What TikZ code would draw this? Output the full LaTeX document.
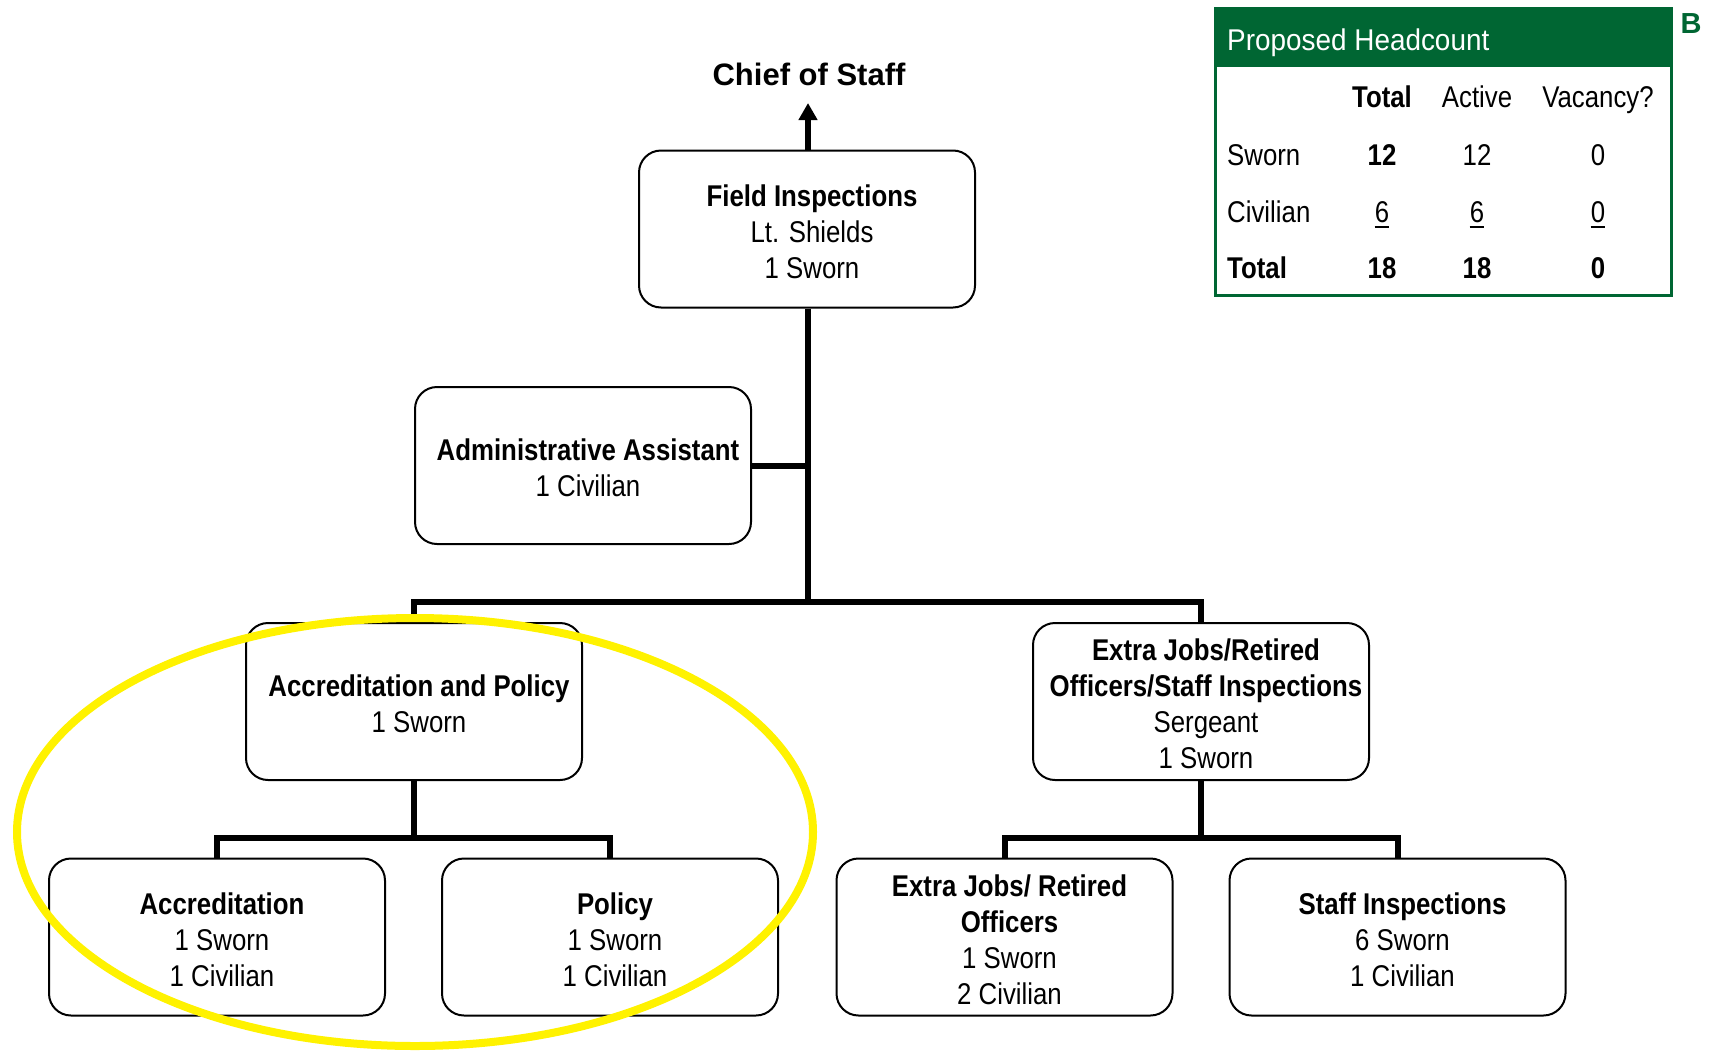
\documentclass[tikz,border=0pt]{standalone}
\usepackage{fontspec}
\setmainfont{Liberation Sans}
\newfontfamily\narrowfont{Liberation Sans}[FakeStretch=0.86]
\newfontfamily\headfont{Liberation Sans}[FakeStretch=0.93]
\usetikzlibrary{arrows.meta}
\definecolor{hcgreen}{RGB}{0,102,51}
% centred lines of a unit box, set a little right of and below the box centre
\newcommand\unitlines[1]{\hspace*{10pt}\raisebox{-6pt}[\height][\depth]{\begin{tabular}{@{}c@{}}#1\end{tabular}}}
\begin{document}
\begin{tikzpicture}[x=1pt,y=-1pt,
  unitbox/.style={draw, line width=2, rounded corners=22, minimum width=336,
    minimum height=157, inner sep=0,
    font=\narrowfont\fontsize{30}{36}\selectfont},
  link/.style={line width=6, line join=miter},
  cell/.style={inner sep=0, anchor=base, font=\narrowfont\fontsize{30}{36}\selectfont},
  boldcell/.style={cell, font=\narrowfont\bfseries\fontsize{30}{36}\selectfont},
  rowhead/.style={cell, anchor=base west},
  uline/.style={line width=2.5}]
\useasboundingbox (0,0) rectangle (1712,1052);

% organisation units
\node[unitbox] (field)  at (807,229)    {\unitlines{\bfseries Field Inspections\\Lt. Shields\\1 Sworn}};
\node[unitbox] (admin)  at (583,465.5)  {\unitlines{\bfseries Administrative Assistant\\1 Civilian}};
\node[unitbox] (accpol) at (414,701.5)  {\unitlines{\bfseries Accreditation and Policy\\1 Sworn}};
\node[unitbox] (extra)  at (1201,701.5) {\unitlines{\bfseries Extra Jobs/Retired\\\bfseries Officers/Staff Inspections\\Sergeant\\1 Sworn}};
\node[unitbox] (acc)    at (217,937)    {\unitlines{\bfseries Accreditation\\1 Sworn\\1 Civilian}};
\node[unitbox] (pol)    at (610,937)    {\unitlines{\bfseries Policy\\1 Sworn\\1 Civilian}};
\node[unitbox] (ejro)   at (1004.5,937) {\unitlines{\bfseries Extra Jobs/ Retired\\\bfseries Officers\\1 Sworn\\2 Civilian}};
\node[unitbox] (staff)  at (1397.5,937) {\unitlines{\bfseries Staff Inspections\\6 Sworn\\1 Civilian}};

% reporting line upwards
\node[anchor=base, inner sep=0, font=\bfseries\fontsize{31}{36}\selectfont] (chief) at (809,85) {Chief of Staff};
\coordinate (uptip) at (808,103);
\draw[link, -{Triangle[width=18pt,length=17pt]}] (field.north -| uptip) -- (uptip);

% bus lines
\coordinate (bus1) at (808,602);
\coordinate (bus2) at (414,838);
\coordinate (bus3) at (1201,838);
\draw[link] (field.south -| bus1) -- (bus1);
\draw[link] (admin.east) -- (admin.east -| bus1);
\draw[link] (accpol.north) -- (accpol.north |- bus1) -- (extra.north |- bus1) -- (extra.north);
\draw[link] (accpol.south) -- (bus2);
\draw[link] (acc.north) -- (acc.north |- bus2) -- (pol.north |- bus2) -- (pol.north);
\draw[link] (extra.south) -- (bus3);
\draw[link] (ejro.north) -- (ejro.north |- bus3) -- (staff.north |- bus3) -- (staff.north);

% headcount table
\fill[hcgreen] (1215,8) rectangle (1671,67);
\draw[hcgreen, line width=3] (1215,8) rectangle (1671,295);
\node[anchor=base west, inner sep=0, text=white, font=\headfont\fontsize{30}{36}\selectfont] (thead) at (1227,50) {Proposed Headcount};
\node[boldcell] (ctot) at (1382,107) {Total};
\node[cell] (cact) at (1477,107) {Active};
\node[cell] (cvac) at (1598,107) {Vacancy?};
\node[rowhead] (rsw) at (1227,165) {Sworn};
\node[boldcell] (sw1) at (1382,165) {12};
\node[cell] (sw2) at (1477,165) {12};
\node[cell] (sw3) at (1598,165) {0};
\node[rowhead] (rciv) at (1227,222) {Civilian};
\node[cell] (cv1) at (1382,222) {6};
\node[cell] (cv2) at (1477,222) {6};
\node[cell] (cv3) at (1598,222) {0};
\draw[uline] ([yshift=-5]cv1.base west) -- ([yshift=-5]cv1.base east);
\draw[uline] ([yshift=-5]cv2.base west) -- ([yshift=-5]cv2.base east);
\draw[uline] ([yshift=-5]cv3.base west) -- ([yshift=-5]cv3.base east);
\node[boldcell, anchor=base west] (rtot) at (1227,278) {Total};
\node[boldcell] (tt1) at (1382,278) {18};
\node[boldcell] (tt2) at (1477,278) {18};
\node[boldcell] (tt3) at (1598,278) {0};
\node[anchor=base, inner sep=0, text=hcgreen, font=\bfseries\fontsize{29}{34}\selectfont] (tag) at (1691,33) {B};

% highlight ring around the accreditation group
\draw[yellow, line width=8] (415,832) ellipse [x radius=398, y radius=214];
\end{tikzpicture}
\end{document}
